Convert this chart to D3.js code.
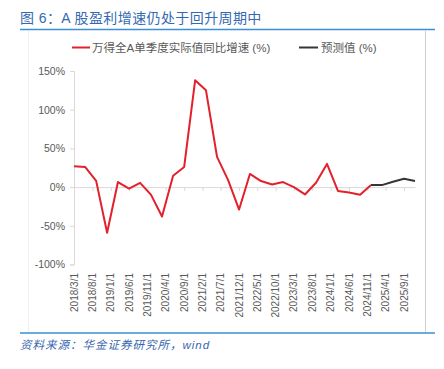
<!DOCTYPE html>
<html>
<head>
<meta charset="utf-8">
<script src="https://cdn.jsdelivr.net/npm/d3@7"></script>
<style>
  body { margin: 0; background: #fff; }
  svg { display: block; font-family: "Liberation Sans", Arial, "Noto Sans CJK SC", sans-serif; }
</style>
</head>
<body>
<div id="chart"></div>
<script>
const actualDates = [
  "2018/3/1", "2018/6/1", "2018/9/1", "2018/12/1",
  "2019/3/1", "2019/6/1", "2019/9/1", "2019/12/1",
  "2020/3/1", "2020/6/1", "2020/9/1", "2020/12/1",
  "2021/3/1", "2021/6/1", "2021/9/1", "2021/12/1",
  "2022/3/1", "2022/6/1", "2022/9/1", "2022/12/1",
  "2023/3/1", "2023/6/1", "2023/9/1", "2023/12/1",
  "2024/3/1", "2024/6/1", "2024/9/1", "2024/12/1"
];
const actualValues = [
  27, 26, 8, -59,
  6.5, -2, 5.5, -10,
  -38, 14.6, 26, 138,
  125, 39, 9, -29,
  17, 7.8, 3.4, 6.5,
  0, -9.5, 5.6, 30,
  -5, -7, -10, 2.6
];
const forecastDates = ["2024/12/1", "2025/3/1", "2025/6/1", "2025/9/1", "2025/12/1"];
const forecastValues = [2.6, 2.6, 7, 10.7, 8];

const xTickLabels = [
  "2018/3/1", "2018/8/1", "2019/1/1", "2019/6/1", "2019/11/1",
  "2020/4/1", "2020/9/1", "2021/2/1", "2021/7/1", "2021/12/1",
  "2022/5/1", "2022/10/1", "2023/3/1", "2023/8/1", "2024/1/1",
  "2024/6/1", "2024/11/1", "2025/4/1", "2025/9/1"
];
const yTicks = [-100, -50, 0, 50, 100, 150];

const titleText = "图 6：A 股盈利增速仍处于回升周期中";
const legendActual = "万得全A单季度实际值同比增速 (%)";
const legendForecast = "预测值 (%)";
const sourceText = "资料来源：华金证券研究所，wind";

const W = 444, H = 369;
const PLOT = { left: 74, right: 415, top: 71, bottom: 264.5 };
const RED = "#e3202b";
const DARK = "#3b3434";
const GRID = "#d9d9d9";
const TEXT = "#595959";

const parseDate = d3.timeParse("%Y/%m/%d");

const svg = d3.select("#chart").append("svg")
  .attr("width", W)
  .attr("height", H);

// title + rules
svg.append("text")
  .attr("x", 20).attr("y", 23)
  .attr("fill", "#3469b2")
  .attr("font-size", 14)
  .attr("letter-spacing", 0.4)
  .text(titleText);

svg.append("line")
  .attr("x1", 20).attr("x2", 435).attr("y1", 29.5).attr("y2", 29.5)
  .attr("stroke", "#3b8fd6").attr("stroke-width", 1.5);

svg.append("line")
  .attr("x1", 20).attr("x2", 435).attr("y1", 333).attr("y2", 333)
  .attr("stroke", "#3b8fd6").attr("stroke-width", 1.5);

// chart frame sides
svg.append("line")
  .attr("x1", 28.5).attr("x2", 28.5).attr("y1", 31).attr("y2", 332)
  .attr("stroke", "#efefef");
svg.append("line")
  .attr("x1", 425.5).attr("x2", 425.5).attr("y1", 31).attr("y2", 332)
  .attr("stroke", "#cfcfcf");

svg.append("text")
  .attr("x", 20).attr("y", 349)
  .attr("fill", "#3766b0")
  .attr("font-size", 11.5)
  .attr("letter-spacing", 1)
  .attr("font-style", "italic")
  .text(sourceText);

// scales
const x = d3.scaleTime()
  .domain([parseDate(actualDates[0]), parseDate(forecastDates[forecastDates.length - 1])])
  .range([PLOT.left, PLOT.right]);

const y = d3.scaleLinear()
  .domain([-100, 150])
  .range([PLOT.bottom, PLOT.top]);

// y axis
const yAxis = svg.append("g")
  .attr("transform", `translate(${PLOT.left},0)`)
  .call(d3.axisLeft(y).tickValues(yTicks).tickSize(4).tickPadding(5).tickFormat(d => d + "%"));
yAxis.select(".domain").attr("stroke", GRID);
yAxis.selectAll(".tick line").attr("stroke", GRID);
yAxis.selectAll(".tick text")
  .attr("fill", TEXT)
  .attr("font-size", 10.5)
  .attr("font-family", "\"Liberation Sans\", Arial, sans-serif");

// x axis on the zero line
const xTickDates = xTickLabels.map(parseDate);
const xAxis = svg.append("g")
  .attr("transform", `translate(0,${y(0)})`)
  .call(d3.axisBottom(x).tickValues(xTickDates).tickSize(4).tickSizeOuter(0).tickFormat(""));
xAxis.select(".domain").attr("stroke", GRID);
xAxis.selectAll(".tick line").attr("stroke", GRID);

svg.append("g")
  .selectAll("text")
  .data(xTickLabels)
  .join("text")
  .attr("transform", d => `translate(${x(parseDate(d))},273) rotate(-90)`)
  .attr("text-anchor", "end")
  .attr("dy", "0.35em")
  .attr("fill", TEXT)
  .attr("font-size", 10)
  .text(d => d);

// lines
const line = d3.line()
  .x(d => x(d.date))
  .y(d => y(d.value));

const actualSeries = actualDates.map((d, i) => ({ date: parseDate(d), value: actualValues[i] }));
const forecastSeries = forecastDates.map((d, i) => ({ date: parseDate(d), value: forecastValues[i] }));

svg.append("path")
  .datum(actualSeries)
  .attr("fill", "none")
  .attr("stroke", RED)
  .attr("stroke-width", 2)
  .attr("stroke-linejoin", "round")
  .attr("d", line);

svg.append("path")
  .datum(forecastSeries)
  .attr("fill", "none")
  .attr("stroke", DARK)
  .attr("stroke-width", 2)
  .attr("stroke-linejoin", "round")
  .attr("d", line);

// legend
const legend = svg.append("g").attr("font-size", 11.5).attr("fill", TEXT);
legend.append("line")
  .attr("x1", 72).attr("x2", 90).attr("y1", 47.5).attr("y2", 47.5)
  .attr("stroke", RED).attr("stroke-width", 2);
legend.append("text")
  .attr("x", 92).attr("y", 51.5)
  .text(legendActual);
legend.append("line")
  .attr("x1", 299).attr("x2", 318).attr("y1", 47.5).attr("y2", 47.5)
  .attr("stroke", DARK).attr("stroke-width", 2);
legend.append("text")
  .attr("x", 321).attr("y", 51.5)
  .text(legendForecast);
</script>
</body>
</html>
